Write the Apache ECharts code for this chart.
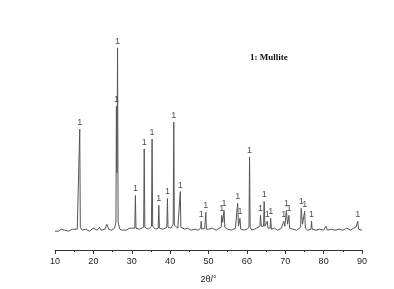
<!DOCTYPE html>
<html><head><meta charset="utf-8">
<script src="https://cdn.jsdelivr.net/npm/echarts@6/dist/echarts.min.js"></script>
<style>html,body{margin:0;padding:0;background:#fff}#c{width:394px;height:289px}</style>
</head><body><div id="c"></div>
<script>
// XRD pattern: [2θ (°), relative intensity]
const pattern = [
[10.0,1],[10.5,2],[11,1],[11.6,3],[12,1],[12.5,2],[13,3],[13.5,1],[14,2],[14.6,3],[15,2],[15.8,3],[16.3,5],[16.45,104],[16.6,5],[17.1,2],[17.6,4],[18,3],[18.5,2],[19,1],[19.5,3],[20,4],[20.5,2],[21,2],[21.6,5],[22,2],[22.5,3],[23,3],[23.5,8],[24,3],[24.8,2],[25.5,4],[25.88,10],[26.0,127],[26.15,60],[26.3,186],[26.45,10],[26.9,3],[27.5,2],[28,4],[28.5,2],[29,2],[29.5,4],[30,3],[30.8,4],[30.95,37],[31.1,4],[31.5,2],[32,3],[32.5,2],[33.1,5],[33.25,84],[33.4,5],[34.3,3],[35.15,6],[35.3,94],[35.45,6],[36.2,3],[36.9,4],[37.05,27],[37.2,4],[38.2,3],[39.15,5],[39.3,34],[39.45,5],[40.2,4],[40.8,8],[40.95,111],[41.1,7],[42,4],[42.5,5],[42.65,41],[42.8,5],[43.3,3],[43.8,3],[44.5,4],[45,2],[45.5,2],[46,4],[46.5,3],[47,2],[47.3,2],[47.95,4],[48.1,11],[48.25,3],[49,4],[49.15,4],[49.3,20],[49.45,3],[50,3],[50.5,2],[51,4],[51.5,3],[52,2],[52.5,4],[53.3,5],[53.45,17],[53.7,10],[54.05,22],[54.25,5],[55,3],[55.5,4],[56,2],[56.5,3],[57,4],[57.45,6],[57.6,29],[57.8,6],[58.2,14],[58.4,3],[59.2,2],[59.6,4],[60,3],[60.55,5],[60.7,76],[60.85,5],[61.3,2],[61.8,3],[62.5,4],[63,3],[63.4,6],[63.55,17],[63.75,6],[64.35,6],[64.5,31],[64.7,6],[65.3,11],[65.5,4],[66.05,4],[66.2,14],[66.4,3],[67.2,4],[67.6,2],[68,2],[68.5,3],[69,4],[69.6,11],[69.9,6],[70.3,22],[70.6,8],[70.95,17],[71.15,4],[71.6,3],[72,3],[72.5,4],[73,2],[73.5,3],[74.0,5],[74.15,24],[74.5,8],[75.05,21],[75.25,4],[75.8,2],[76.2,3],[76.7,3],[76.85,11],[77.0,3],[77.5,2],[78,2],[78.5,3],[79,3],[79.5,2],[80,2],[80.6,6],[81,2],[81.5,3],[82,3],[82.5,2],[83,2],[83.5,3],[84,3],[84.5,2],[85,2],[85.5,3],[86,4],[86.5,2],[87,2],[87.8,4],[88.4,5],[88.9,11],[89.1,3],[89.5,2],[90,2]
];
// Labelled mullite peaks [2θ, intensity]
const peaks = [
[16.45,104],[26.0,127],[26.3,186],[30.95,37],[33.25,84],[35.3,94],[37.05,27],[39.3,34],[40.95,111],[42.65,41],[48.1,11],[49.3,20],[53.45,17],[54.05,22],[57.6,29],[58.2,14],[60.7,76],[63.55,17],[64.5,31],[65.3,11],[66.2,14],[69.6,11],[70.3,22],[70.95,17],[74.15,24],[75.05,21],[76.85,11],[88.9,11]
];
const peakLabel = '1';
const legendText = '1: Mullite';
const xName = '2θ/°';

const chart = echarts.init(document.getElementById('c'), null, {renderer:'canvas'});
chart.setOption({
  animation:false,
  grid:{left:55, right:32, top:30, bottom:37},
  xAxis:{type:'value', min:10, max:90, interval:10,
    name:xName, nameLocation:'middle', nameGap:25,
    nameTextStyle:{fontSize:9, color:'#222', fontFamily:'Arial'},
    axisLine:{onZero:false, lineStyle:{color:'#333', width:1}},
    axisTick:{show:true, length:4, lineStyle:{color:'#333'}},
    minorTick:{show:true, splitNumber:2, length:2, lineStyle:{color:'#333'}},
    axisLabel:{fontSize:9, color:'#222', margin:7, fontFamily:'Arial'},
    splitLine:{show:false}},
  yAxis:{type:'value', min:-18, max:204, show:false},
  graphic:[{type:'text', left:250, top:53, style:{text:legendText, font:'bold 9px "Liberation Serif"', fill:'#111'}}],
  series:[
    {type:'line', data:pattern, symbol:'none', lineStyle:{color:'#555', width:1}},
    {type:'scatter', data:peaks, symbolSize:0, silent:true,
      label:{show:true, formatter:peakLabel, position:'top', distance:2, fontSize:9, color:'#222', fontFamily:'Arial'}}
  ]
});
</script></body></html>
